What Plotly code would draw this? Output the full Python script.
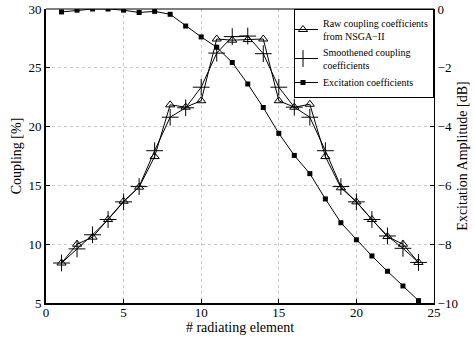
import plotly.graph_objects as go

elements = list(range(1, 25))
raw_coupling = [8.4, 10.0, 10.6, 12.1, 13.65, 14.85, 17.45, 21.85, 21.65, 22.2, 27.45, 27.35,
                27.4, 27.45, 22.2, 21.65, 21.9, 17.45, 14.8, 13.6, 12.1, 10.65, 10.0, 8.45]
smooth_coupling = [8.4, 9.6, 10.8, 12.1, 13.6, 14.9, 17.95, 20.8, 21.6, 23.35, 26.25, 27.65,
                   27.7, 26.2, 23.35, 21.65, 20.8, 17.95, 14.9, 13.6, 12.1, 10.7, 9.65, 8.45]
excitation_db = [-0.1, -0.04, 0.0, 0.0, -0.04, -0.12, -0.08, -0.18, -0.58, -0.95, -1.3, -1.82,
                 -2.55, -3.35, -4.23, -4.98, -5.6, -6.46, -7.27, -7.85, -8.4, -8.92, -9.42, -9.92]

FONT = "Times New Roman, Liberation Serif, serif"

fig = go.Figure()
fig.add_trace(go.Scatter(
    x=elements, y=raw_coupling, mode="lines+markers",
    name="Raw coupling coefficients<br>from NSGA−II",
    line=dict(color="black", width=1),
    marker=dict(symbol="triangle-up-open", size=8, color="black", line=dict(width=1)),
))
fig.add_trace(go.Scatter(
    x=elements, y=smooth_coupling, mode="lines+markers",
    name="Smoothened coupling<br>coefficients",
    line=dict(color="black", width=1),
    marker=dict(symbol="cross-thin-open", size=12, color="black", line=dict(width=1, color="black")),
))
fig.add_trace(go.Scatter(
    x=elements, y=excitation_db, mode="lines+markers", yaxis="y2",
    name="Excitation coefficients",
    line=dict(color="black", width=1),
    marker=dict(symbol="square", size=5, color="black"),
))

fig.update_layout(
    width=474, height=337,
    margin=dict(l=46, r=40, t=9, b=34),
    paper_bgcolor="white", plot_bgcolor="white",
    font=dict(family=FONT, size=13, color="black"),
    showlegend=True,
    legend=dict(
        x=1, y=1, xanchor="right", yanchor="top",
        bgcolor="white", bordercolor="black", borderwidth=1,
        font=dict(family=FONT, size=10, color="black"),
        tracegroupgap=0, itemwidth=30, indentation=-12,
    ),
    xaxis=dict(
        range=[0, 25], dtick=5, tick0=0, automargin=False,
        showgrid=True, gridcolor="#c8c8c8", griddash="dot", gridwidth=1,
        showline=True, linecolor="black", linewidth=2, mirror=False,
        ticks="inside", ticklen=4, tickcolor="black", zeroline=False,
        ticklabelstandoff=-4,
        title=dict(text="# radiating element", font=dict(family=FONT, size=14), standoff=0),
    ),
    yaxis=dict(
        range=[5, 30], dtick=5, tick0=5, automargin=False,
        showgrid=True, gridcolor="#c8c8c8", griddash="dot", gridwidth=1,
        showline=True, linecolor="black", linewidth=2, mirror=False,
        ticks="inside", ticklen=4, tickcolor="black", zeroline=False,
        title=dict(text="Coupling [%]", font=dict(family=FONT, size=14), standoff=4),
    ),
    yaxis2=dict(
        range=[-10, 0], dtick=2, tick0=0, overlaying="y", side="right", automargin=False,
        showgrid=False, showline=True, linecolor="black", linewidth=1,
        ticks="inside", ticklen=4, tickcolor="black", zeroline=False,
        title=dict(text="Excitation Amplitude [dB]", font=dict(family=FONT, size=14), standoff=0),
    ),
    shapes=[dict(type="line", xref="paper", yref="paper", x0=0, x1=1, y0=1, y1=1,
                 line=dict(color="black", width=1))],
)

fig.write_html("out.html", config={"displayModeBar": False},
               post_script="document.body.style.margin='0px';")
